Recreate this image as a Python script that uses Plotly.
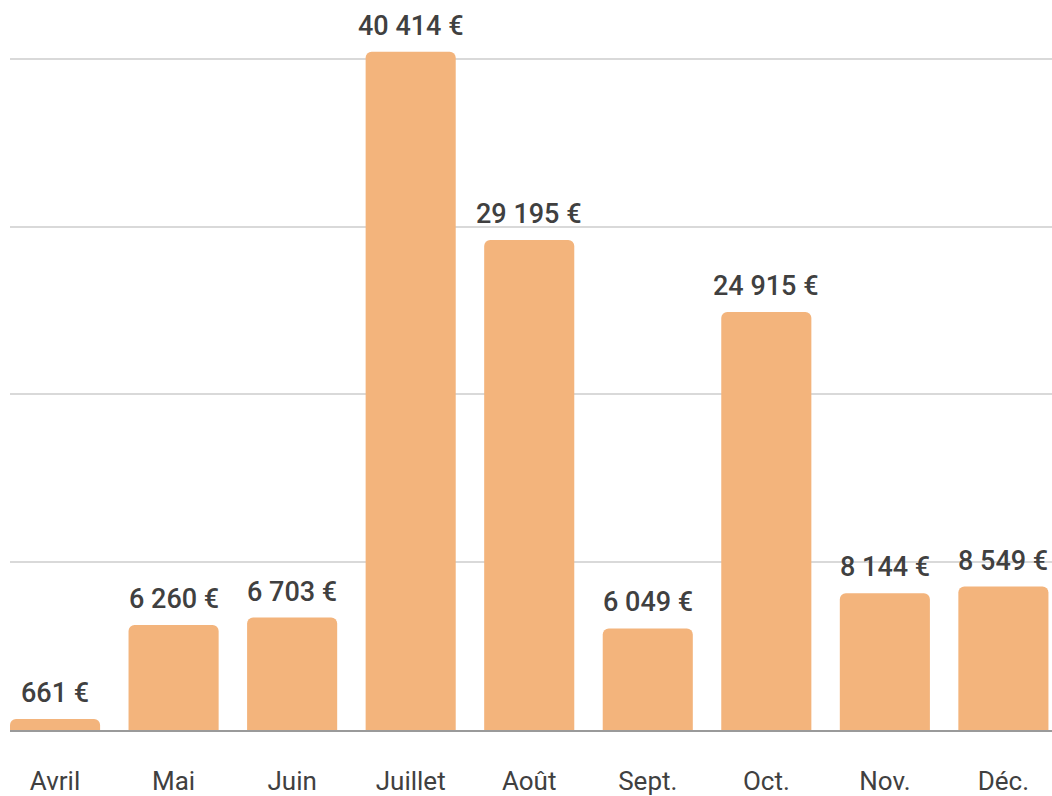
import plotly.graph_objects as go

months = ["Avril", "Mai", "Juin", "Juillet", "Août", "Sept.", "Oct.", "Nov.", "Déc."]
values = [661, 6260, 6703, 40414, 29195, 6049, 24915, 8144, 8549]

fig = go.Figure(go.Bar(
    x=months, y=values,
    marker=dict(color="#F3B47C", cornerradius=6, line=dict(width=0)),
    width=0.76,
    hoverinfo="skip",
))

for m, v in zip(months, values):
    fig.add_annotation(
        x=m, y=v, xref="x", yref="y",
        text=f"{v:,.0f} €".replace(",", " "),
        showarrow=False, yanchor="bottom", yshift=8,
        font=dict(family="Roboto", size=27, color="#404040", weight=500),
    )

fig.update_layout(
    width=1052, height=796,
    margin=dict(l=10, r=0, t=0, b=63),
    paper_bgcolor="white", plot_bgcolor="white",
    showlegend=False,
    xaxis=dict(
        range=[-0.38, 8.41],
        showgrid=False, showline=True, linecolor="#9a9a9a", linewidth=1.5,
        ticks="", ticklabelstandoff=27,
        tickfont=dict(family="Roboto", size=26, color="#404040"),
    ),
    yaxis=dict(
        range=[0, 43500], tickvals=[10000, 20000, 30000, 40000],
        showticklabels=False, showgrid=True, gridcolor="#d9d9d9", gridwidth=1.5,
        zeroline=False, showline=False,
    ),
)

fig.write_html("out.html", config={"displayModeBar": False},
               post_script="document.body.style.margin='0';document.body.style.overflow='hidden';")
